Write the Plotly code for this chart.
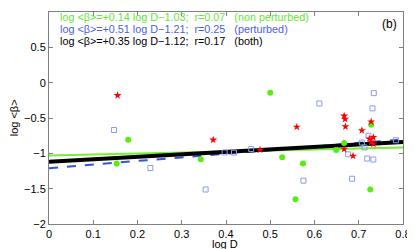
import plotly.graph_objects as go

# non perturbed (green circles)
np_x = [0.179, 0.153, 0.343, 0.500, 0.728, 0.667, 0.649, 0.527, 0.574, 0.726, 0.557]
np_y = [-0.807, -1.143, -1.083, -0.143, -0.594, -0.853, -0.954, -1.055, -1.143, -1.512, -1.650]

# perturbed (blue open squares)
p_x = [0.147, 0.229, 0.354, 0.734, 0.611, 0.731, 0.722, 0.707, 0.713, 0.457, 0.397, 0.418,
       0.676, 0.719, 0.733, 0.575, 0.685, 0.784]
p_y = [-0.670, -1.208, -1.512, -0.148, -0.295, -0.364, -0.752, -0.848, -0.917, -0.940, -0.987, -0.990,
       -1.014, -1.074, -1.088, -1.387, -1.360, -0.815]

# red stars
s_x = [0.155, 0.371, 0.667, 0.669, 0.728, 0.560, 0.670, 0.707, 0.724, 0.733, 0.728, 0.733, 0.477, 0.667, 0.687]
s_y = [-0.180, -0.810, -0.470, -0.516, -0.553, -0.627, -0.622, -0.677, -0.793, -0.774, -0.840, -0.866, -0.949, -0.940, -1.037]

# fits: slope, intercept
fit_np = (0.14, -1.03)
fit_p = (0.51, -1.21)
fit_all = (0.35, -1.12)
line_x = [0.0, 0.8]

x_ticks = [0, 0.1, 0.2, 0.3, 0.4, 0.5, 0.6, 0.7, 0.8]
x_tick_text = ["0", "0.1", "0.2", "0.3", "0.4", "0.5", "0.6", "0.7", "0.8"]
y_ticks = [-2, -1.5, -1, -0.5, 0, 0.5, 1]
y_tick_text = ["−2", "−1.5", "−1", "−0.5", "0", "0.5", "1"]

legend_lines = [
    ("log <β>=+0.14 log D−1.03;  r=0.07   (non perturbed)", "#66e633"),
    ("log <β>=+0.51 log D−1.21;  r=0.25   (perturbed)", "#4a5ee8"),
    ("log <β>=+0.35 log D−1.12;  r=0.17   (both)", "#000000"),
]

GREEN = "#55ee11"
BLUE_SQ = "#8c9cf0"
FONT = "Liberation Sans, Arial, sans-serif"

fig = go.Figure()

fig.add_trace(go.Scatter(x=line_x, y=[fit_np[0] * v + fit_np[1] for v in line_x], mode="lines",
                         line=dict(color="#77ee33", width=2), showlegend=False))
fig.add_trace(go.Scatter(x=line_x, y=[fit_p[0] * v + fit_p[1] for v in line_x], mode="lines",
                         line=dict(color="#3355dd", width=2, dash="dash"), showlegend=False))
fig.add_trace(go.Scatter(x=line_x, y=[fit_all[0] * v + fit_all[1] for v in line_x], mode="lines",
                         line=dict(color="#000000", width=4), showlegend=False))

fig.add_trace(go.Scatter(x=p_x, y=p_y, mode="markers",
                         marker=dict(symbol="square-open", size=5, color=BLUE_SQ, line=dict(width=1)),
                         showlegend=False))
fig.add_trace(go.Scatter(x=np_x, y=np_y, mode="markers",
                         marker=dict(symbol="circle", size=6, color=GREEN), showlegend=False))
fig.add_trace(go.Scatter(x=s_x, y=s_y, mode="markers",
                         marker=dict(symbol="star", size=6, color="#ff0000"), showlegend=False))

ys = [0.976, 0.920, 0.863]
for (txt, col), yy in zip(legend_lines, ys):
    fig.add_annotation(x=0.025, y=yy, xref="paper", yref="paper", text=txt, showarrow=False,
                       xanchor="left", yanchor="middle", font=dict(family=FONT, size=10.8, color=col))
fig.add_annotation(x=0.989, y=0.943, xref="paper", yref="paper", text="(b)", showarrow=False,
                   xanchor="right", yanchor="middle", font=dict(family=FONT, size=12, color="#000"))
fig.add_annotation(x=0.497, y=-0.092, xref="paper", yref="paper", text="log D", showarrow=False,
                   xanchor="center", yanchor="middle", font=dict(family=FONT, size=11, color="#000"))
fig.add_annotation(x=-0.098, y=0.5, xref="paper", yref="paper", text="log <β>", showarrow=False,
                   textangle=-90, xanchor="center", yanchor="middle",
                   font=dict(family=FONT, size=11, color="#000"))

axis_common = dict(showline=True, linecolor="#808080", linewidth=1, mirror="ticks", ticks="inside",
                   ticklen=4, tickcolor="#808080", showgrid=False, zeroline=False,
                   tickfont=dict(family=FONT, size=11, color="#000"))

fig.update_layout(
    width=407, height=241,
    margin=dict(l=41, r=12, t=4, b=25),
    paper_bgcolor="white", plot_bgcolor="white",
    xaxis=dict(range=[0, 0.8], tickvals=x_ticks, ticktext=x_tick_text, **axis_common),
    yaxis=dict(range=[-2, 1], tickvals=y_ticks, ticktext=y_tick_text, **axis_common),
)

fig.write_html("out.html")
